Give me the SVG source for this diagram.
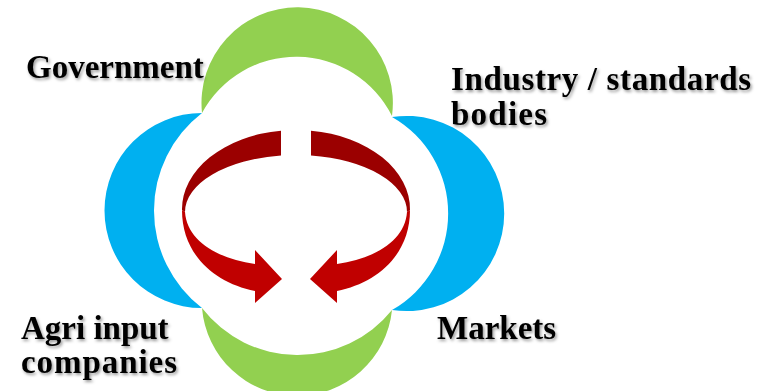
<svg xmlns="http://www.w3.org/2000/svg" width="771" height="391" viewBox="0 0 771 391">
<defs>
<style>
.lbl{font-family:"Liberation Serif","Times New Roman",serif;font-weight:bold;font-size:33px;fill:#000;filter:url(#sh)}
.green{fill:#92D050}
.blue{fill:#00B0F0}
.dark{fill:#9B0000}
.bright{fill:#C00000}
</style>
<filter id="sh" x="-10%" y="-20%" width="120%" height="150%">
<feDropShadow dx="1.5" dy="2" stdDeviation="1.5" flood-color="#000" flood-opacity="0.4"/>
</filter>
</defs>
<rect width="771" height="391" fill="#fff"/>
<g id="node-government-shape"><path class="green" d="M202,113 A95.7,95.7 0 1 1 392,116 A107,107 0 0 0 202,113 Z"/></g>
<g id="node-markets-shape"><path class="green" d="M392,310 A95.4,95.4 0 0 1 202,308 A121,121 0 0 0 392,310 Z"/></g>
<g id="node-agri-shape"><path class="blue" d="M202,113 A97.5,97.5 0 1 0 202,308 A123,123 0 0 1 202,113 Z"/></g>
<g id="node-industry-shape"><path class="blue" d="M392,117 A97.6,97.6 0 1 1 392,310 A111,111 0 0 0 392,117 Z"/></g>
<g id="connectors">
<g id="arrow-left">
<path class="dark" d="M281,130.7 A114,79 0 0 0 182,210 L185,212 A111,57 0 0 1 281,155.5 Z"/>
<path class="bright" d="M182,210 C182,255 215,283 255,291 L255,303 L282,279 L255,250 L255,264 C215,258 187,240 185,212 Z"/>
</g>
<g id="arrow-right" transform="translate(592,0) scale(-1,1)">
<path class="dark" d="M281,130.7 A114,79 0 0 0 182,210 L185,212 A111,57 0 0 1 281,155.5 Z"/>
<path class="bright" d="M182,210 C182,255 215,283 255,291 L255,303 L282,279 L255,250 L255,264 C215,258 187,240 185,212 Z"/>
</g>
</g>
<g id="node-government"><text class="lbl" x="26" y="78">Government</text></g>
<g id="node-industry"><text class="lbl" x="451" y="90" textLength="300" lengthAdjust="spacing">Industry / standards</text><text class="lbl" x="451" y="125" textLength="96" lengthAdjust="spacing">bodies</text></g>
<g id="node-agri"><text class="lbl" x="21" y="339">Agri input</text><text class="lbl" x="21" y="373" textLength="156" lengthAdjust="spacing">companies</text></g>
<g id="node-markets"><text class="lbl" x="437" y="339">Markets</text></g>
</svg>
